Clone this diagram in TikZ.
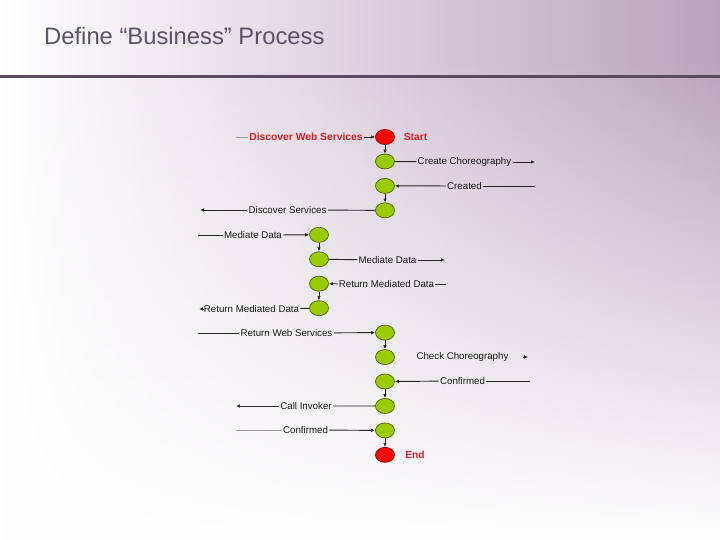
\documentclass[tikz,border=0pt]{standalone}
\usepackage{fontspec}
\setmainfont{Liberation Sans}
\usetikzlibrary{arrows.meta,fadings,shapes.geometric}

\definecolor{bgpurple}{RGB}{186,163,189}
\definecolor{barpurple}{RGB}{90,74,94}
\definecolor{titlegrey}{RGB}{94,82,102}
\definecolor{stategreen}{RGB}{153,204,0}
\definecolor{stateedge}{RGB}{77,102,0}
\definecolor{endred}{RGB}{255,0,0}
\definecolor{endedge}{RGB}{150,0,0}
\definecolor{lblred}{RGB}{222,30,30}

\begin{document}
\begin{tikzpicture}
    [x=0.03cm, y=-0.03cm,
    node distance =0.7335cm,
    vertex/.style={ellipse, minimum width=0.57cm, minimum height=0.45cm, inner sep=0pt,
        fill=stategreen, draw=stateedge, line width=0.6pt},
    term/.style={vertex, fill=endred, draw=endedge},
    lbl/.style={inner sep=1pt, font=\fontsize{8.3}{10}\selectfont, text=black!90},
    redlbl/.style={inner sep=1pt, font=\fontsize{8.8}{10}\selectfont\bfseries, text=lblred},
    msg/.style={-{Latex[length=3.4pt,width=3pt]}, line width=0.8pt, draw=black!85},
    wire/.style={line width=0.8pt, draw=black!85},
    faint/.style={line width=0.8pt, draw=black!40}]
        % Background and title
        \useasboundingbox (0,0) rectangle (720,540);
        \shade[left color=white, middle color=bgpurple!55!white, right color=bgpurple] (0,0) rectangle (720,540);
        \fill[white, path fading=north] (0,60) rectangle (720,540);
        \fill[barpurple] (0,75.5) rectangle (720,78.5);
        \node[anchor=west, inner sep=0pt, text=titlegrey, font=\fontsize{20.3}{24}\selectfont] (title) at (44,36) {Define “Business” Process};

        % States
        \node[term] (s) at (385,137) {};
        \node[vertex, below of = s] (n2) {};
        \node[vertex, below of = n2] (n3) {};
        \node[vertex, below of = n3] (n4) {};
        \node[vertex, below of = n4, xshift=-1.98cm] (n5) {};
        \node[vertex, below of = n5] (n6) {};
        \node[vertex, below of = n6] (n7) {};
        \node[vertex, below of = n7] (n8) {};
        \node[vertex, below of = n8, xshift=1.98cm] (n9) {};
        \node[vertex, below of = n9] (n10) {};
        \node[vertex, below of = n10] (n11) {};
        \node[vertex, below of = n11] (n12) {};
        \node[vertex, below of = n12] (n13) {};
        \node[term, below of = n13] (e) {};

        \node[redlbl] (sl) at (415.5,137) {Start};
        \node[redlbl] (el) at (415,455) {End};

        \draw[msg] (s) to (n2);
        \draw[msg] (n3) to (n4);
        \draw[msg] (n5) to (n6);
        \draw[msg] (n7) to (n8);
        \draw[msg] (n9) to (n10);
        \draw[msg] (n11) to (n12);
        \draw[msg] (n13) to (e);

        % Messages
        \coordinate (m1) at (236,137);
        \node[redlbl] (l1) at (306,137) {Discover Web Services};
        \draw[faint] (m1) -- (l1);
        \draw[msg] (l1) -- (s);

        \coordinate (m2) at (535,162);
        \node[lbl] (l2) at (464.5,162) {Create Choreography};
        \draw[wire] (n2) -- (l2);
        \draw[msg] (l2) -- (m2);

        \coordinate (m3) at (535,186);
        \node[lbl] (l3) at (464.5,186) {Created};
        \draw[wire] (m3) -- (l3);
        \draw[msg] (l3) -- (n3);

        \coordinate (m4) at (200,210);
        \node[lbl] (l4) at (287.5,210) {Discover Services};
        \draw[wire] (n4) -- (l4);
        \draw[msg] (l4) -- (m4);

        \coordinate (m5) at (198,235);
        \node[lbl] (l5) at (253,235) {Mediate Data};
        \draw[wire] (m5) -- (l5);
        \draw[msg] (l5) -- (n5);

        \coordinate (m6) at (445,260);
        \node[lbl] (l6) at (387.5,260) {Mediate Data};
        \draw[wire] (n6) -- (l6);
        \draw[msg] (l6) -- (m6);

        \coordinate (m7) at (446,284);
        \node[lbl] (l7) at (386.5,284) {Return Mediated Data};
        \draw[wire] (m7) -- (l7);
        \draw[msg] (l7) -- (n7);

        \coordinate (m8) at (199,309);
        \node[lbl] (l8) at (251.5,309) {Return Mediated Data};
        \draw[wire] (n8) -- (l8);
        \draw[msg] (l8) -- (m8);

        \coordinate (m9) at (198,333);
        \node[lbl] (l9) at (286.5,333) {Return Web Services};
        \draw[wire] (m9) -- (l9);
        \draw[msg] (l9) -- (n9);

        \node[lbl] (l10) at (462.5,357) {Check Choreography};
        \coordinate (m10a) at (523,357);
        \coordinate (m10b) at (528,357);
        \draw[msg] (m10a) -- (m10b);

        \coordinate (m11) at (530,381);
        \node[lbl] (l11) at (462.5,381) {Confirmed};
        \draw[wire] (m11) -- (l11);
        \draw[msg] (l11) -- (n11);

        \coordinate (m12) at (236,406);
        \node[lbl] (l12) at (306,406) {Call Invoker};
        \draw[wire] (n12) -- (l12);
        \draw[msg] (l12) -- (m12);

        \coordinate (m13) at (236,430);
        \node[lbl] (l13) at (305.5,430) {Confirmed};
        \draw[faint] (m13) -- (l13);
        \draw[msg] (l13) -- (n13);
    \end{tikzpicture}
\end{document}
